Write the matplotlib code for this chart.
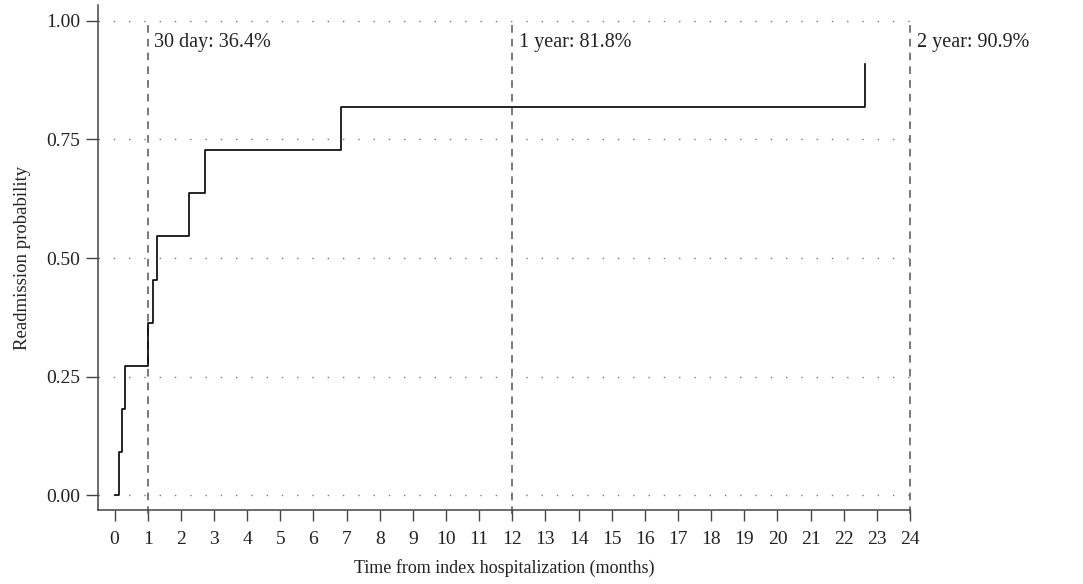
import matplotlib
matplotlib.use("Agg")
import matplotlib.pyplot as plt

plt.rcParams["font.family"] = ["Liberation Serif", "DejaVu Serif"]

# Cumulative readmission curve (months, probability)
event_months = [0.0, 0.12, 0.22, 0.30, 1.00, 1.16, 1.28, 2.25, 2.73, 6.82, 22.65]
readmit_prob = [0.0, 0.0909, 0.1818, 0.2727, 0.3636, 0.4545, 0.5455, 0.6364, 0.7273, 0.8182, 0.9091]

# Reference time points and labels
mark_months = [1, 12, 24]
mark_labels = ["30 day: 36.4%", "1 year: 81.8%", "2 year: 90.9%"]

x_ticks = list(range(0, 25))
y_ticks = [0.0, 0.25, 0.50, 0.75, 1.00]

fig = plt.figure(figsize=(10.83, 5.84), dpi=100)
ax = fig.add_axes([0.0905, 0.1267, 0.7498, 0.8648])

# horizontal dotted grid
for yv in y_ticks:
    ax.plot([-0.5, 24], [yv, yv], color="#777777", linestyle=(0, (1, 10)),
            linewidth=1.0, zorder=1)

# dashed markers at 30 days, 1 year, 2 years
for xm, lab in zip(mark_months, mark_labels):
    ax.plot([xm, xm], [-0.04, 1.0], color="#555555", linestyle=(0, (5, 4)),
            linewidth=1.1, zorder=2, clip_on=False)
    ax.text(xm + 0.2, 0.955, lab, fontsize=14.5, color="#222222",
            ha="left", va="center", clip_on=False)

# step curve
xs = event_months
ys = readmit_prob
ax.step(xs, ys, where="post", color="black", linewidth=1.2, zorder=3)

ax.set_xlim(-0.5, 24)
ax.set_ylim(-0.0316, 1.0338)
ax.set_xticks(x_ticks)
ax.set_xticklabels([str(t) for t in x_ticks])
ax.set_yticks(y_ticks)
ax.set_yticklabels([f"{t:.2f}" for t in y_ticks])

for side in ("top", "right"):
    ax.spines[side].set_visible(False)
for side in ("left", "bottom"):
    ax.spines[side].set_color("#444444")
    ax.spines[side].set_linewidth(1.1)

ax.tick_params(axis="both", colors="#444444", labelcolor="#222222",
               labelsize=14, width=1.0)
ax.tick_params(axis="y", length=9, pad=4)
ax.tick_params(axis="x", length=8, pad=7)

ax.set_xlabel("Time from index hospitalization (months)", fontsize=13,
              color="#222222", labelpad=8)
ax.set_ylabel("Readmission probability", fontsize=13.5, color="#222222",
              labelpad=11)

fig.savefig("out.png", dpi=100)
